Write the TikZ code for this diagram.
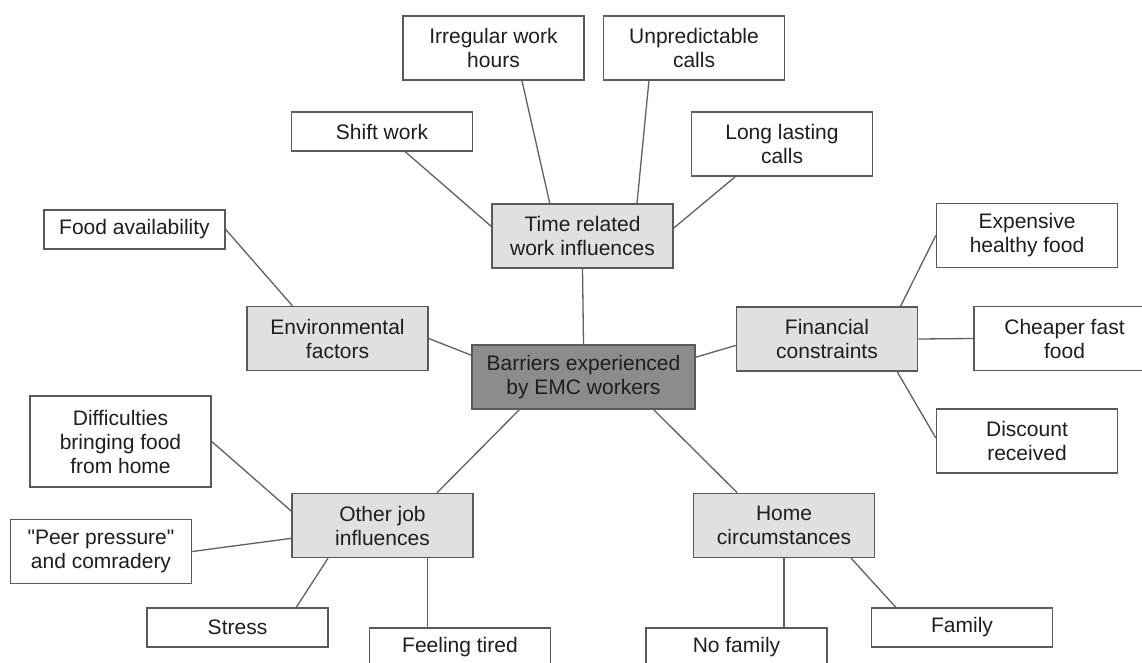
\documentclass[tikz,border=0pt]{standalone}
\usepackage{fontspec}
\setmainfont{Liberation Sans}[Ligatures=TeXOff]
\usetikzlibrary{calc}
\definecolor{boxline}{HTML}{5A5A5A}
\definecolor{conn}{HTML}{606060}
\definecolor{catfill}{HTML}{E0E0E0}
\definecolor{corefill}{HTML}{8C8C8C}
\definecolor{txt}{HTML}{1E1E1E}
\tikzset{
  box/.style={draw=boxline, line width=1.5pt, inner sep=0pt, align=center,
    text=txt, font=\fontsize{21}{24}\selectfont, minimum width=181pt},
  leaf/.style={box, fill=white},
  cat/.style={box, fill=catfill},
  core/.style={box, fill=corefill},
  tall/.style={minimum height=64pt},
  short/.style={minimum height=39pt},
  link/.style={draw=conn, line width=1.3pt}
}
\begin{document}
\begin{tikzpicture}[x=1pt, y=-1pt]
\useasboundingbox (0,0) rectangle (1142,662);
\clip (0,0) rectangle (1142,662);
% nodes
\node[leaf, tall] (irr) at (493.5,48) {Irregular work\\hours};
\node[leaf, tall] (unp) at (694,48) {Unpredictable\\calls};
\node[leaf, short] (shift) at (382,131.5) {Shift work};
\node[leaf, tall] (long) at (782,144) {Long lasting\\calls};
\node[cat, tall] (time) at (582.5,236) {Time related\\work influences};
\node[leaf, short] (food) at (134.5,229.5) {Food availability};
\node[leaf, tall] (exp) at (1027,235.5) {Expensive\\healthy food};
\node[cat, tall] (env) at (337.5,338.5) {Environmental\\factors};
\node[core, tall, minimum width=223pt] (bar) at (583.5,377) {Barriers experienced\\by EMC workers};
\node[cat, tall] (fin) at (827,339) {Financial\\constraints};
\node[leaf, tall] (cheap) at (1064.5,338.5) {Cheaper fast\\food};
\node[leaf, minimum height=91pt] (diff) at (120.5,441.5) {Difficulties\\bringing food\\from home};
\node[leaf, tall] (disc) at (1027,441) {Discount\\received};
\node[cat, tall] (other) at (382.5,525.5) {Other job\\influences};
\node[cat, tall] (home) at (784,525.5) {Home\\circumstances};
\node[leaf, tall] (peer) at (101,551.5) {"Peer pressure"\\and comradery};
\node[leaf, short] (stress) at (237.5,627.5) {Stress};
\node[leaf, short] (family) at (962,627.5) {Family};
\node[leaf, short] (tired) at (460,647.5) {Feeling tired};
\node[leaf, short] (nofam) at (736.5,647.5) {No family};
% connectors
\draw[link] (shift.-41.5) -- (time.174.3);
\draw[link] (irr.-49.3) -- (time.135.4);
\draw[link] (unp.-144.6) -- (time.31.4);
\draw[link] (long.-145.2) -- (time.5.6);
\draw[link] (time.south) -- (bar.north);
\draw[link] (food.east) -- (env.144.5);
\draw[link] (env.east) -- (bar.169.3);
\draw[link] (bar.10.2) -- (fin.-176.8);
\draw[link] (fin.24.9) -- (exp.west);
\draw[link] (fin.east) -- (cheap.west);
\draw[link] (fin.-25.2) -- (disc.178);
\draw[link] (bar.-153.3) -- (other.31.8);
\draw[link] (bar.-25.7) -- (home.145.9);
\draw[link] (diff.east) -- (other.171.5);
\draw[link] (peer.east) -- (other.-172.8);
\draw[link] (other.-149.6) -- (stress.19);
\draw[link] (other.-36.1) -- (other.-36.1 |- tired.north);
\draw[link] (home.south) -- (home.south |- nofam.north);
\draw[link] (home.-26.2) -- (family.163.8);
\end{tikzpicture}
\end{document}
